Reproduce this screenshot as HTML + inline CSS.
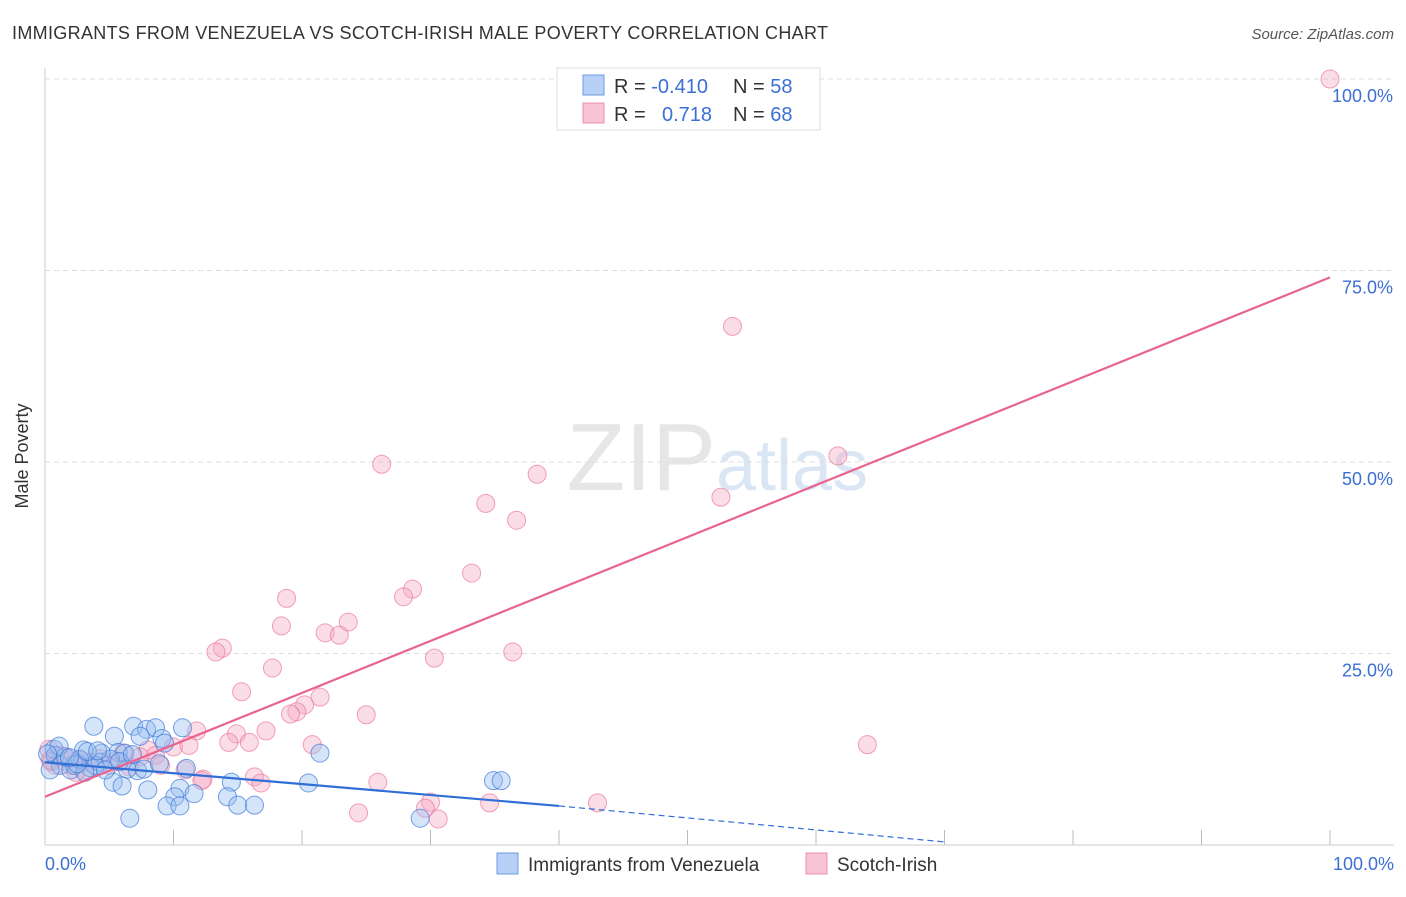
<!DOCTYPE html>
<html><head><meta charset="utf-8"><style>
body{margin:0;background:#fff;font-family:"Liberation Sans",sans-serif}
svg text{font-family:"Liberation Sans",sans-serif}
</style></head><body>
<svg width="1406" height="892" xmlns="http://www.w3.org/2000/svg" id="chart">
<text x="12" y="39" font-size="18" fill="#333" textLength="816">IMMIGRANTS FROM VENEZUELA VS SCOTCH-IRISH MALE POVERTY CORRELATION CHART</text>
<text x="1394" y="39" font-size="15" fill="#555" font-style="italic" text-anchor="end">Source: ZipAtlas.com</text>
<text x="716" y="490" font-size="96" fill="#e6e6e6" font-family="Liberation Serif" text-anchor="end">ZIP</text>
<text x="716" y="490" font-size="72" fill="#dbe6f5">atlas</text>
<g id="grid"></g>
<line x1="45" y1="68" x2="45" y2="845" stroke="#ccc"/>
<line x1="45" y1="845" x2="1394" y2="845" stroke="#ccc"/>
<text x="28" y="456" font-size="18" fill="#333" transform="rotate(-90 28 456)" text-anchor="middle">Male Poverty</text>
<text x="45" y="870" font-size="18" fill="#3b6fd6">0.0%</text>
<text x="1394" y="870" font-size="18" fill="#3b6fd6" text-anchor="end">100.0%</text>
<g id="pts"></g>
<g id="trends"></g>
<g>
<rect x="557" y="68" width="263" height="62" fill="#fff" stroke="#ddd"/>
<rect x="583" y="75" width="21" height="20" fill="#b8d0f5" stroke="#6c9be6"/>
<rect x="583" y="103" width="21" height="20" fill="#f8c3d3" stroke="#ec8fae"/>
<text x="614" y="93" font-size="20" fill="#333">R = <tspan fill="#3b6fd6">-0.410</tspan></text>
<text x="733" y="93" font-size="20" fill="#333">N = <tspan fill="#3b6fd6">58</tspan></text>
<text x="614" y="121" font-size="20" fill="#333">R = <tspan fill="#3b6fd6" x="662">0.718</tspan></text>
<text x="733" y="121" font-size="20" fill="#333">N = <tspan fill="#3b6fd6">68</tspan></text>
</g>
<g>
<rect x="497" y="853" width="21" height="21" fill="#b8d0f5" stroke="#6c9be6"/>
<text x="528" y="871" font-size="19" fill="#333">Immigrants from Venezuela</text>
</g>
<g>
<rect x="806" y="853" width="21" height="21" fill="#f8c3d3" stroke="#ec8fae"/>
<text x="837" y="871" font-size="19" fill="#333">Scotch-Irish</text>
</g>
</svg>
<script>
const yTicks=[25,50,75,100];
const xTicks=[10,20,30,40,50,60,70,80,90,100];
const pinkX=[100,53.5,61.7,26.2,38.3,52.6,34.3,36.7,33.2,28.6,27.9,18.8,18.4,23.6,21.8,22.9,13.8,13.3,30.3,36.4,17.7,15.3,21.4,20.2,19.6,19.1,17.2,11.8,14.9,14.3,15.9,20.8,25,64,10,11.2,8,8.6,7.4,6.1,5.5,10.9,12.3,16.3,16.8,25.9,12.2,24.4,30,29.6,30.6,34.6,43,1.2,0.8,2,3.5,4.3,6.6,9,0.4,2.7,5,3.1,0.3,0.5,1.5,2.4];
const pinkY=[100,67.7,50.8,49.7,48.4,45.4,44.6,42.4,35.5,33.4,32.4,32.2,28.6,29.1,27.7,27.4,25.7,25.2,24.4,25.2,23.1,20,19.3,18.3,17.4,17.1,14.9,14.9,14.5,13.4,13.4,13.1,17,13.1,12.8,13,12.4,11.7,11.5,12,11,9.8,8.6,8.9,8.1,8.2,8.4,4.2,5.6,4.8,3.4,5.5,5.5,11.7,10.4,10.4,10.8,11.3,10.2,10.4,11.1,11.1,10.4,9.8,12.5,10.9,11.5,9.5];
const blueX=[3.8,6.9,7.9,8.6,10.7,7.4,9.1,5.4,0.7,3,4.4,5.7,6.2,6.4,7.2,9.3,11,21.4,20.5,14.5,5.3,6,8,10.5,11.6,10.1,9.5,10.5,14.2,15,16.3,6.6,29.2,34.9,35.5,0.8,1.2,2,2.3,3.5,4.3,1.6,2.7,5.1,3.9,0.4,3.1,4.7,1.1,2.5,5.8,6.8,3.3,0.2,1.9,4.1,7.7,8.9];
const blueY=[15.5,15.5,15.1,15.3,15.3,14.2,13.9,14.2,12.5,12.4,12,12.1,12,9.9,9.7,13.3,10,12,8.1,8.2,8.2,7.7,7.2,7.4,6.7,6.3,5.1,5.1,6.3,5.2,5.2,3.5,3.5,8.4,8.4,11.7,10.4,9.8,10.4,10.1,10.8,11.5,11.2,11.2,10.4,9.8,9.5,9.8,12.9,10.6,10.9,11.8,12.2,11.9,11.4,12.3,9.9,10.6];
const pinkTrend=[0,6.3,100,74.1];
const blueTrend=[0,10.8,40,5.1,70,0.4];
const X=v=>45+v*12.85, Y=v=>845-v*7.66;
const NS="http://www.w3.org/2000/svg";
const mk=(t,a,p)=>{const e=document.createElementNS(NS,t);for(const k in a)e.setAttribute(k,a[k]);p.appendChild(e);return e;};
const grid=document.getElementById('grid');
yTicks.forEach(v=>{
 const l=mk('line',{x1:45,x2:1394,y1:Y(v),y2:Y(v),stroke:'#ddd','stroke-dasharray':'5,4'},grid);
 
 
 const t=mk('text',{x:1393,y:Y(v)+23,'font-size':18,fill:'#3b6fd6','text-anchor':'end'},grid);
 t.textContent=v.toFixed(1)+'%';
 
 
});
xTicks.forEach(v=>{
 const l=mk('line',{x1:X(v),x2:X(v),y1:830,y2:845,stroke:'#bbb'},grid);
 
 
});
const pts=document.getElementById('pts');
pinkX.forEach((v,i)=>{
 const c=mk('circle',{cx:X(v),cy:Y(pinkY[i]),r:9,fill:'rgba(245,170,195,0.4)',stroke:'rgba(236,120,160,0.7)','stroke-width':1},pts);
 
 
});
blueX.forEach((v,i)=>{
 const c=mk('circle',{cx:X(v),cy:Y(blueY[i]),r:9,fill:'rgba(150,190,240,0.4)',stroke:'rgba(60,120,220,0.7)','stroke-width':1},pts);
 
 
});
const tr=document.getElementById('trends');
const pl=mk('line',{x1:X(pinkTrend[0]),y1:Y(pinkTrend[1]),x2:X(pinkTrend[2]),y2:Y(pinkTrend[3]),stroke:'#e8648f','stroke-width':2.2},tr);


const bl=mk('line',{x1:X(blueTrend[0]),y1:Y(blueTrend[1]),x2:X(blueTrend[2]),y2:Y(blueTrend[3]),stroke:'#2f6fd6','stroke-width':2.2},tr);


const bd=mk('line',{x1:X(blueTrend[2]),y1:Y(blueTrend[3]),x2:X(blueTrend[4]),y2:Y(blueTrend[5]),stroke:'#2f6fd6','stroke-width':1.2,'stroke-dasharray':'6,4'},tr);


</script>
</body></html>
